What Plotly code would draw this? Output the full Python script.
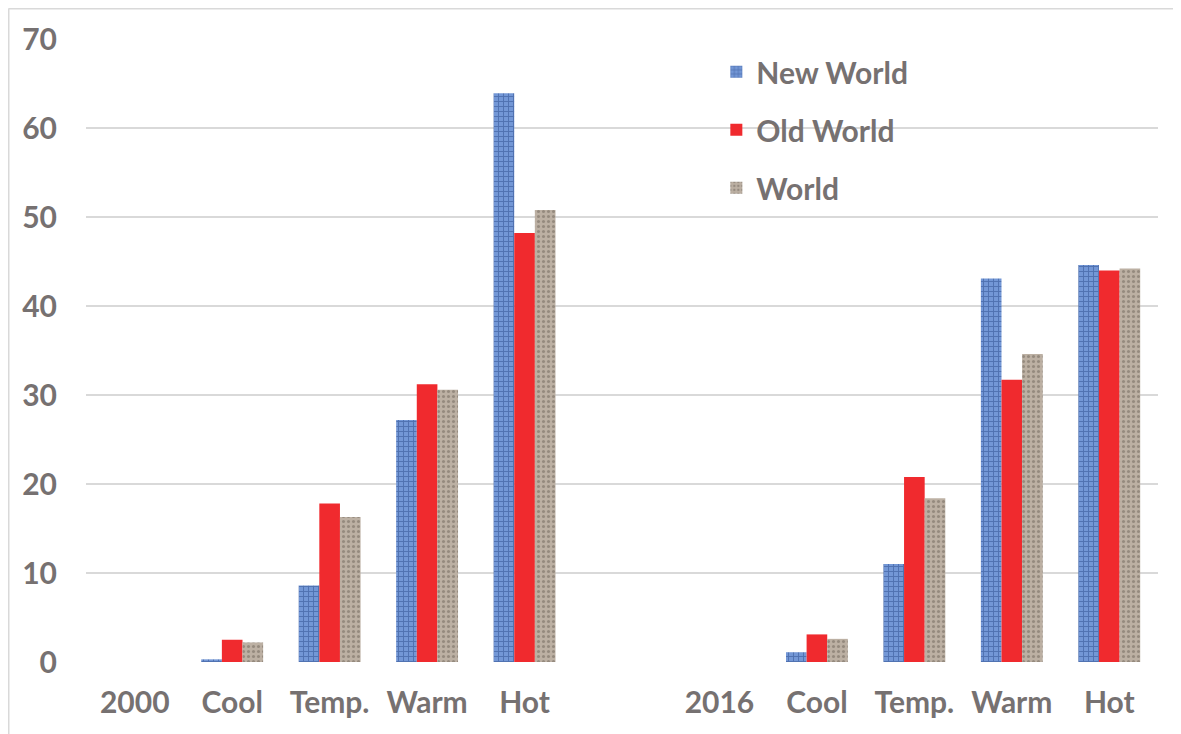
import plotly.graph_objects as go

labels = ["2000", "Cool", "Temp.", "Warm", "Hot", "", "2016", "Cool", "Temp.", "Warm", "Hot"]
new_world = [None, 0.3, 8.6, 27.2, 63.9, None, None, 1.1, 11.0, 43.1, 44.6]
old_world = [None, 2.5, 17.8, 31.2, 48.2, None, None, 3.1, 20.8, 31.7, 44.0]
world = [None, 2.2, 16.3, 30.6, 50.8, None, None, 2.6, 18.4, 34.6, 44.2]
y_ticks = [0, 10, 20, 30, 40, 50, 60, 70]

xs = list(range(len(labels)))
txt = "#767171"
font = dict(family="Lato", size=30, weight="bold", color=txt)

fig = go.Figure()
fig.add_trace(go.Bar(
    x=xs, y=new_world, name="New World", legendgroup="a",
    marker=dict(color="#7397d6", line=dict(width=0),
                pattern=dict(shape="+", fgcolor="#2c4c8c", size=5, solidity=0.35, fillmode="overlay")),
))
fig.add_trace(go.Bar(
    x=xs, y=old_world, name="Old World", legendgroup="b",
    marker=dict(color="#f02a2e", line=dict(width=0)),
))
fig.add_trace(go.Bar(
    x=xs, y=world, name="World", legendgroup="c",
    marker=dict(color="#bcb0a3", line=dict(width=0),
                pattern=dict(shape=".", fgcolor="#6d645a", size=5, solidity=0.3, fillmode="overlay")),
))

fig.update_layout(
    width=1181, height=734,
    margin=dict(l=78, r=31, t=31, b=80),
    paper_bgcolor="white", plot_bgcolor="white",
    barmode="group", bargap=0.365, bargroupgap=0,
    font=font,
    showlegend=True,
    legend=dict(x=0.588, y=0.989, xanchor="left", yanchor="top",
                font=font, tracegroupgap=16, bgcolor="rgba(0,0,0,0)",
                itemwidth=30),
    xaxis=dict(range=[-0.5, len(labels) - 0.5], tickmode="array", tickvals=xs, ticktext=labels,
               showgrid=False, zeroline=False, showline=False, ticks="",
               ticklabelstandoff=20, tickfont=font),
    yaxis=dict(range=[0, 70], tickmode="array", tickvals=y_ticks,
               showgrid=True, gridcolor="#d9d9d9", gridwidth=2,
               zeroline=False, showline=False, ticks="",
               ticklabelstandoff=28, tickfont=font),
    shapes=[
        dict(type="line", xref="paper", yref="paper",
             x0=(0.5 - 78) / 1072, x1=(0.5 - 78) / 1072, y0=-1, y1=(654 - 0.5) / 623,
             line=dict(color="#d9d9d9", width=2)),
        dict(type="line", xref="paper", yref="paper",
             x0=(0.5 - 78) / 1072, x1=1.1, y0=(654 - 0.5) / 623, y1=(654 - 0.5) / 623,
             line=dict(color="#d9d9d9", width=2)),
    ],
)

fig.write_html("out.html")
